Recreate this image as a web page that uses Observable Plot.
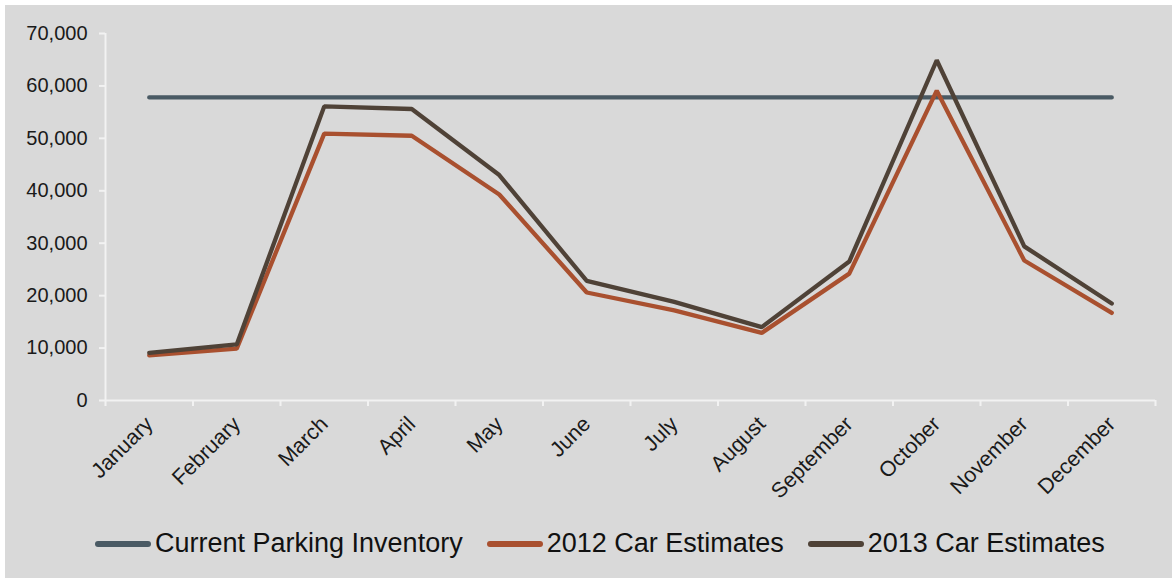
<!DOCTYPE html>
<html>
<head>
<meta charset="utf-8">
<script src="https://cdn.jsdelivr.net/npm/d3@7"></script>
<script src="https://cdn.jsdelivr.net/npm/@observablehq/plot@0.6"></script>
<style>
  html, body { margin: 0; padding: 0; background: #ffffff; width: 1172px; height: 578px; overflow: hidden; }
  #wrap { position: absolute; left: 5px; top: 5px; width: 1167px; height: 573px; background: #d9d9d9; font-family: "Liberation Sans", Arial, sans-serif; }
  #legend { position: absolute; left: 90px; top: 523px; display: flex; align-items: center; font-size: 27px; color: #111; white-space: nowrap; }
  .item { display: flex; align-items: center; margin-right: 24px; }
  .sw { width: 56px; height: 6px; border-radius: 3px; margin-right: 4px; }
</style>
</head>
<body>
<div id="wrap"><div id="chart"></div><div id="legend"></div></div>
<script>
const months = ["January","February","March","April","May","June","July","August","September","October","November","December"];
const inventory = [57800,57800,57800,57800,57800,57800,57800,57800,57800,57800,57800,57800];
const est2012 = [8600,9900,50900,50500,39300,20600,17200,12900,24200,59100,26700,16700];
const est2013 = [9100,10700,56100,55600,43000,22800,18800,14000,26500,64900,29400,18500];
const yTicks = [0,10000,20000,30000,40000,50000,60000,70000];
const seriesNames = ["Current Parking Inventory","2012 Car Estimates","2013 Car Estimates"];
const seriesColors = ["#4a5a64","#a9502f","#4f4237"];

const seriesValues = [inventory, est2012, est2013];
const rows = [];
seriesNames.forEach((name, s) => {
  seriesValues[s].forEach((v, i) => rows.push({series: name, i, month: months[i], value: v}));
});
const idx = months.map((m, i) => i);
const bounds = d3.range(months.length + 1).map(i => i - 0.5);
const axisColor = "#f2f2f2";
const textColor = "#1a1a1a";

const chart = Plot.plot({
  width: 1167,
  height: 505,
  marginLeft: 100,
  marginRight: 17,
  marginTop: 28,
  marginBottom: 110,
  style: {background: "transparent", fontFamily: "'Liberation Sans', Arial, sans-serif", color: textColor},
  x: {type: "linear", domain: [-0.5, months.length - 0.5]},
  y: {domain: [0, 70000]},
  color: {domain: seriesNames, range: seriesColors},
  marks: [
    Plot.ruleY([0], {stroke: axisColor, strokeWidth: 2}),
    Plot.ruleX([-0.5], {stroke: axisColor, strokeWidth: 2}),
    Plot.axisY({ticks: yTicks, tickSize: 6, tickPadding: 12, tickFormat: d3.format(","), fontSize: 20, stroke: axisColor, strokeWidth: 2, label: null}),
    Plot.axisX(bounds, {tickSize: 6, tickFormat: () => "", stroke: axisColor, strokeWidth: 2, label: null}),
    Plot.axisX(idx, {tickSize: 0, tickPadding: 20, tickRotate: -45, tickFormat: i => months[i], fontSize: 21.5, label: null}),
    Plot.line(rows, {x: "i", y: "value", z: "series", stroke: "series", strokeWidth: 4.3, strokeLinecap: "round", strokeLinejoin: "miter"})
  ]
});
document.getElementById("chart").appendChild(chart);

const legend = document.getElementById("legend");
seriesNames.forEach((name, s) => {
  const item = document.createElement("div");
  item.className = "item";
  const sw = document.createElement("span");
  sw.className = "sw";
  sw.style.background = seriesColors[s];
  const label = document.createElement("span");
  label.textContent = name;
  item.appendChild(sw);
  item.appendChild(label);
  legend.appendChild(item);
});
</script>
</body>
</html>
